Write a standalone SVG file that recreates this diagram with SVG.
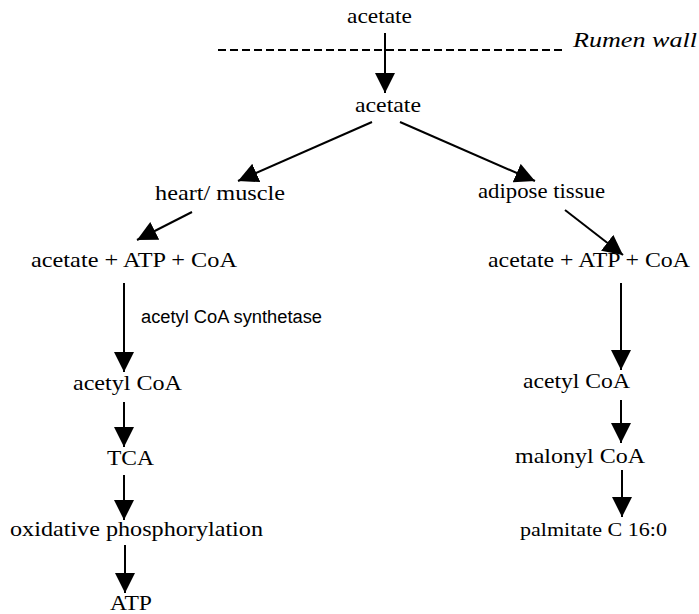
<svg xmlns="http://www.w3.org/2000/svg" width="699" height="614" viewBox="0 0 699 614">
<style>
  .t { font-family: "Liberation Serif", "Times New Roman", serif; font-size: 22px; fill: #000; }
  .s { font-family: "Liberation Sans", Arial, sans-serif; font-size: 18px; fill: #000; }
  .i { font-style: italic; }
  .a { stroke: #000; stroke-width: 2; fill: none; marker-end: url(#ah); }
  .d { stroke: #000; stroke-width: 2; stroke-dasharray: 8 4; fill: none; }
</style>
<defs>
  <marker id="ah" markerUnits="userSpaceOnUse" markerWidth="20" markerHeight="20" refX="20" refY="10" orient="auto" viewBox="0 0 20 20">
    <path d="M0,0 L20,10 L0,20 z" fill="#000"/>
  </marker>
</defs>
<rect width="699" height="614" fill="#fff"/>
<g id="connectors">
  <line class="d" x1="218" y1="50" x2="562" y2="50"/>
  <line class="a" x1="385" y1="33" x2="385" y2="93"/>
  <line class="a" x1="372" y1="122" x2="238" y2="181"/>
  <line class="a" x1="400" y1="122" x2="535" y2="181"/>
  <line class="a" x1="192" y1="212" x2="137" y2="240"/>
  <line class="a" x1="565" y1="210" x2="623" y2="255"/>
  <line class="a" x1="124" y1="283" x2="124" y2="372"/>
  <line class="a" x1="124" y1="402" x2="124" y2="447"/>
  <line class="a" x1="124" y1="475" x2="124" y2="520"/>
  <line class="a" x1="125" y1="545" x2="125" y2="593"/>
  <line class="a" x1="621" y1="283" x2="621" y2="370"/>
  <line class="a" x1="621" y1="400" x2="621" y2="443"/>
  <line class="a" x1="622" y1="470" x2="622" y2="517"/>
  <text class="s" x="141" y="323" textLength="181" lengthAdjust="spacingAndGlyphs">acetyl CoA synthetase</text>
</g>
<g id="acetate-lumen"><text class="t" x="347" y="23" textLength="65" lengthAdjust="spacingAndGlyphs">acetate</text></g>
<g id="rumen-wall"><text class="t i" x="573" y="47" textLength="124" lengthAdjust="spacingAndGlyphs">Rumen wall</text></g>
<g id="acetate-blood"><text class="t" x="355" y="112" textLength="66" lengthAdjust="spacingAndGlyphs">acetate</text></g>
<g id="heart-muscle"><text class="t" x="155" y="200" textLength="130" lengthAdjust="spacingAndGlyphs">heart/ muscle</text></g>
<g id="adipose-tissue"><text class="t" x="478" y="198" textLength="127" lengthAdjust="spacingAndGlyphs">adipose tissue</text></g>
<g id="left-substrates"><text class="t" x="31" y="267" textLength="206" lengthAdjust="spacingAndGlyphs">acetate + ATP + CoA</text></g>
<g id="right-substrates"><text class="t" x="488" y="267" textLength="202" lengthAdjust="spacingAndGlyphs">acetate + ATP + CoA</text></g>
<g id="left-acetyl-coa"><text class="t" x="73" y="390" textLength="109" lengthAdjust="spacingAndGlyphs">acetyl CoA</text></g>
<g id="tca"><text class="t" x="107" y="465" textLength="47" lengthAdjust="spacingAndGlyphs">TCA</text></g>
<g id="oxphos"><text class="t" x="10" y="536" textLength="253" lengthAdjust="spacingAndGlyphs">oxidative phosphorylation</text></g>
<g id="atp"><text class="t" x="110" y="610" textLength="42" lengthAdjust="spacingAndGlyphs">ATP</text></g>
<g id="right-acetyl-coa"><text class="t" x="523" y="388" textLength="107" lengthAdjust="spacingAndGlyphs">acetyl CoA</text></g>
<g id="malonyl-coa"><text class="t" x="515" y="463" textLength="130" lengthAdjust="spacingAndGlyphs">malonyl CoA</text></g>
<g id="palmitate"><text class="t" x="520" y="536" style="font-size:18px" textLength="147" lengthAdjust="spacingAndGlyphs">palmitate C 16:0</text></g>
</svg>
